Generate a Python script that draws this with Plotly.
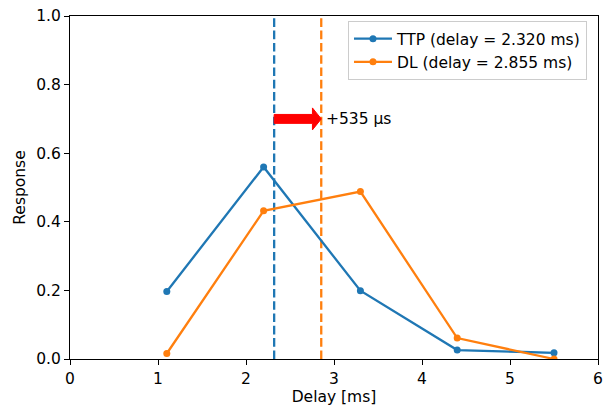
import plotly.graph_objects as go

delay_x = [1.1, 2.2, 3.3, 4.4, 5.5]
ttp_resp = [0.197, 0.560, 0.199, 0.026, 0.018]
dl_resp = [0.016, 0.432, 0.488, 0.061, 0.0]
ttp_delay = 2.320
dl_delay = 2.855
arrow_y = 0.70
x_ticks = [0, 1, 2, 3, 4, 5, 6]
y_ticks = [0.0, 0.2, 0.4, 0.6, 0.8, 1.0]

blue = "#1f77b4"
orange = "#ff7f0e"
font = "DejaVu Sans"
fs = 15.5

fig = go.Figure()
fig.add_trace(go.Scatter(x=delay_x, y=ttp_resp, mode="lines+markers",
                         name=f"TTP (delay = {ttp_delay:.3f} ms)",
                         line=dict(color=blue, width=2.3), marker=dict(size=7, color=blue)))
fig.add_trace(go.Scatter(x=delay_x, y=dl_resp, mode="lines+markers",
                         name=f"DL (delay = {dl_delay:.3f} ms)",
                         line=dict(color=orange, width=2.3), marker=dict(size=7, color=orange)))

for d, c in [(ttp_delay, blue), (dl_delay, orange)]:
    fig.add_shape(type="line", x0=d, x1=d, y0=0, y1=1, xref="x", yref="y",
                  line=dict(color=c, width=2.3, dash="8.6px,3.7px"), layer="below")

# red arrow
shaft_h = 0.013
head_h = 0.032
head_l = 0.10
x0 = ttp_delay
x1 = dl_delay
xb = x1 - head_l
path = (f"M {x0},{arrow_y - shaft_h} L {xb},{arrow_y - shaft_h} L {xb},{arrow_y - head_h} "
        f"L {x1},{arrow_y} L {xb},{arrow_y + head_h} L {xb},{arrow_y + shaft_h} "
        f"L {x0},{arrow_y + shaft_h} Z")
fig.add_shape(type="path", path=path, xref="x", yref="y",
              fillcolor="red", line=dict(color="red", width=1))
shift_us = round((dl_delay - ttp_delay) * 1000)
fig.add_annotation(x=dl_delay, y=arrow_y, xref="x", yref="y", text=f"+{shift_us} µs",
                   showarrow=False, xanchor="left", yanchor="middle", xshift=3,
                   font=dict(family=font, size=fs, color="black"))

axis_common = dict(showline=True, linecolor="black", linewidth=1.2, mirror=True,
                   ticks="outside", ticklen=5, tickwidth=1.2, tickcolor="black", showgrid=False,
                   zeroline=False, automargin=False,
                   tickfont=dict(family=font, size=fs, color="black"))
fig.update_xaxes(range=[0, 6], tickvals=x_ticks, ticktext=[str(v) for v in x_ticks],
                 title=dict(text="Delay [ms]", font=dict(family=font, size=fs, color="black"), standoff=4),
                 **axis_common)
fig.update_yaxes(range=[0, 1], tickvals=y_ticks, ticktext=[f"{v:.1f}" for v in y_ticks],
                 title=dict(text="Response", font=dict(family=font, size=fs, color="black"), standoff=6),
                 **axis_common)

fig.update_layout(width=608, height=407, margin=dict(l=70, r=10, t=16, b=48),
                  plot_bgcolor="white", paper_bgcolor="white",
                  font=dict(family=font, size=fs, color="black"),
                  showlegend=True,
                  legend=dict(x=0.5265, y=0.985, xanchor="left", yanchor="top",
                              bordercolor="#cccccc", borderwidth=1, bgcolor="rgba(255,255,255,0.8)",
                              font=dict(family=font, size=fs, color="black"),
                              tracegroupgap=0, itemwidth=38))

fig.write_html("out.html", config={"displayModeBar": False},
               post_script="document.body.style.margin='0';document.body.style.padding='0';")
